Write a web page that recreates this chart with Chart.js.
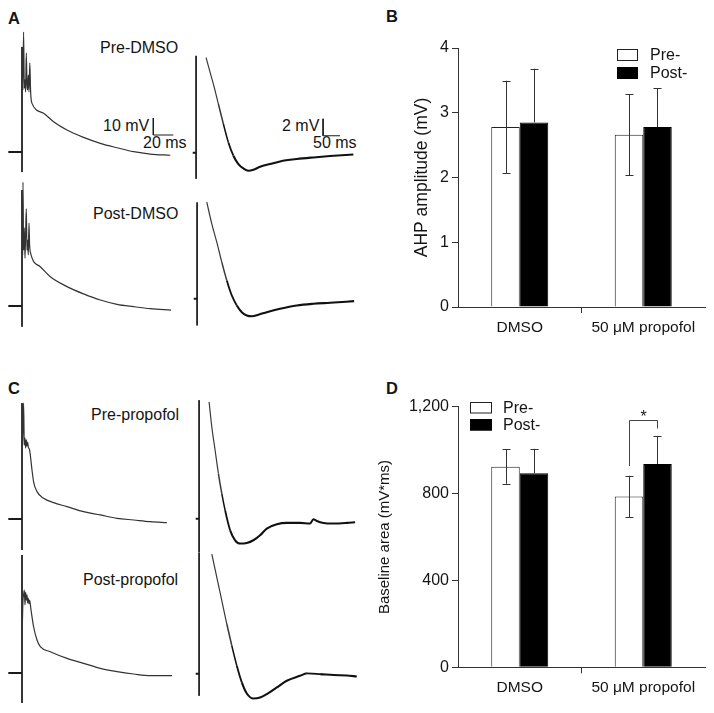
<!DOCTYPE html>
<html><head><meta charset="utf-8">
<script src="https://cdn.jsdelivr.net/npm/chart.js@4.4.0/dist/chart.umd.min.js"></script>
<style>
html,body{margin:0;padding:0;background:#fff;}
#fig{position:relative;width:714px;height:713px;overflow:hidden;font-family:"Liberation Sans",Arial,Helvetica,sans-serif;color:#151515;}
#fig canvas{position:absolute;}
.t{position:absolute;font-size:16px;line-height:16px;white-space:nowrap;transform:translateY(-50%);}
.p{font-weight:bold;font-size:16.5px;}
</style></head><body>
<div id="fig">
  <div class="t p" style="left:8px;top:17.5px">A</div>
  <div class="t p" style="left:386px;top:16px">B</div>
  <div class="t p" style="left:8px;top:388px">C</div>
  <div class="t p" style="left:386px;top:387.5px">D</div>
  <div class="t" style="left:100px;top:48px">Pre-DMSO</div>
  <div class="t" style="left:93px;top:213.5px">Post-DMSO</div>
  <div class="t" style="left:91px;top:415px">Pre-propofol</div>
  <div class="t" style="left:83px;top:580px">Post-propofol</div>
  <div class="t" style="left:103px;top:126px">10 mV</div>
  <div class="t" style="left:143px;top:143px">20 ms</div>
  <div class="t" style="left:282px;top:126px">2 mV</div>
  <div class="t" style="left:313px;top:143px">50 ms</div>
</div>
<script>
// ---------- Trace data (time in ms after stimulus, voltage in mV relative to baseline) ----------
// Fast time-base traces (left columns)
const aPreFastT  = [0.8,1.6,2.3,3.0,3.6,4.3,5.0,5.6,6.3,7.0,7.8,8.5,9.0,10.0,21.6,31.6,45,61.6,78.3,95,111.6,128.3,148.3];
const aPreFastV  = [36.5,70.6,37.6,42.4,35.3,58.2,39.4,36.5,45.3,35.3,52.4,37.6,31.8,28.6,22.8,17.8,12.9,8.6,5.1,2.5,0.2,-1.2,-1.9];
const aPostFastT = [0.6,1.0,1.6,2.3,3.0,3.6,4.3,5.0,5.6,6.3,7.0,7.6,8.3,18.3,28.3,45,61.6,78.3,95,111.6,128.3,149];
const aPostFastV = [30,72.9,32.9,45.9,28.2,41.8,57.1,32.9,38.8,30,48.8,35.9,31.8,23.1,17.2,11.4,7.1,3.5,1.0,-0.4,-1.6,-2.4];
const cPreFastT  = [0.6,1.6,2.3,3.0,3.6,4.3,5.0,5.6,6.3,7.6,10.0,11.6,15,21.6,31.6,45,61.6,78.3,95,111.6,128.3,145];
const cPreFastV  = [43.5,68.2,43.5,47.6,41.8,46.5,42.9,45.3,42.4,40.6,28.8,21.9,16.1,12.2,9.6,7.3,4.3,2.4,0.4,-0.6,-1.6,-2.2];
const cPostFastT = [0.4,1.0,1.6,2.3,3.0,3.6,4.3,5.0,5.6,6.3,7.0,7.6,9.0,11.6,15,18.3,28.3,45,61.6,78.3,95,111.6,128.3,150];
const cPostFastV = [30,42.9,45.9,48.8,40,47.6,42.9,45.9,41.2,44.1,40.6,42.9,37.1,27.2,19.4,15.5,12.5,8.6,5.7,2.7,0.8,-0.6,-1.6,-1.6];
// stimulus artifact extent [top, bottom] in mV
const aPreFastArt  = [61.8,-11.8];
const aPostFastArt = [68.2,-12.2];
const cPreFastArt  = [68.2,-18.2];
const cPostFastArt = [69.4,-17.6];

// Slow time-base traces (right columns, AHP)
const aPreSlowT  = [29.4,41.2,50.9,65.6,80.3,95,109.7,124.4,139.1,153.8,168.5,188.2,217.6,247,296.2,345,394,462.6];
const aPreSlowV  = [11.2,9.45,8.08,5.73,3.38,1.21,-0.35,-1.33,-1.85,-2.12,-2.0,-1.65,-1.33,-1.02,-0.74,-0.55,-0.39,-0.2];
const aPostSlowT = [28.5,43.2,57.9,72.6,87.4,102,116.8,131.5,146.2,160.9,180.3,205,244,293.2,342,391.2,461.8];
const aPostSlowV = [11.36,8.82,6.66,4.31,2.15,0.39,-0.79,-1.58,-1.96,-2.05,-1.88,-1.58,-1.18,-0.79,-0.59,-0.47,-0.28];
const cPreSlowT  = [29.4,37.4,47.1,56.8,66.8,76.5,91.2,105.9,120.6,140.3,159.7,179.4,199.1,228.5,257.9,297.1,326.5,336.2,346.2,365.6,395,434.4,458.8];
const cPreSlowV  = [13.74,10.8,8.06,5.32,2.96,1.0,-1.35,-2.53,-2.92,-2.85,-2.53,-1.94,-1.15,-0.65,-0.49,-0.49,-0.56,-0.06,-0.26,-0.49,-0.56,-0.49,-0.41];
const cPostSlowT = [37.4,52.1,66.8,81.5,96.2,110.9,125.6,140.3,159.7,179.4,199.1,228.5,257.9,297.1,316.8,355.9,395,434.4,463.8];
const cPostSlowV = [14.08,11.33,8.59,5.85,3.29,0.94,-1.02,-2.32,-2.91,-2.79,-2.39,-1.61,-0.82,-0.24,0.04,-0.04,-0.15,-0.2,-0.32];
const aPreSlowArt  = [11.4,-3.06];
const aPostSlowArt = [11.33,-3.14];
const cPreSlowArt  = [13.94,-3.94];
const cPostSlowArt = [14.24,-2.59];

// Scale bars [ms, mV]
const fastScaleBar = [20, 10];
const slowScaleBar = [50, 2];

// ---------- Bar data ----------
const groups = ['DMSO', '50 \u03bcM propofol'];
const ahpPre     = [2.78, 2.66];
const ahpPreSem  = [0.715, 0.625];
const ahpPost    = [2.85, 2.78];
const ahpPostSem = [0.83, 0.60];
const ahpTicks   = [0, 1, 2, 3, 4];
const areaPre     = [924, 786];
const areaPreSem  = [79, 96];
const areaPost    = [893, 936];
const areaPostSem = [113, 130];
const areaTicks   = [0, 400, 800, 1200];
const areaSig     = [927, 1139, 1100]; // bracket over 50 uM propofol: pre leg end, top, post leg end

// ---------- Rendering ----------
const FAM = '"Liberation Sans", Arial, Helvetica, sans-serif';
const fig = document.getElementById('fig');
function mkCanvas(left, top, w, h) {
  const c = document.createElement('canvas');
  c.width = w; c.height = h;
  c.style.left = left + 'px'; c.style.top = top + 'px';
  c.style.width = w + 'px'; c.style.height = h + 'px';
  fig.appendChild(c);
  return c;
}
const pts = (t, v) => t.map((x, i) => ({x: x, y: v[i]}));

function traceChart(s) {
  const W = Math.round((s.tMax - s.tMin) * s.pxMs);
  const H = Math.round((s.vMax - s.vMin) * s.pxMv);
  const c = mkCanvas(s.x0 + s.tMin * s.pxMs, s.y0 - s.vMax * s.pxMv, W, H);
  const main = {data: pts(s.t, s.v), borderColor: s.color, borderWidth: s.width, cubicInterpolationMode: 'monotone'};
  if (s.slow) {
    // the steep falling phase is drawn thinner/greyer, as in the original recording
    main.segment = {
      borderWidth: ctx => { const v = ctx.p0.parsed.y; return v > 6 ? 1.2 : v > 2.5 ? 1.5 : v > 0 ? 1.8 : s.width; },
      borderColor: ctx => (ctx.p0.parsed.y > 4 ? '#3a3a3a' : s.color)
    };
  }
  const ds = [
    main,
    {data: [{x: 0, y: s.art[0]}, {x: 0, y: s.art[1]}], borderColor: '#1a1a1a', borderWidth: 1},
    {data: [{x: s.baseFrom, y: 0}, {x: 0, y: 0}], borderColor: '#1a1a1a', borderWidth: 2}
  ];
  if (s.bar) {
    const [bx, by] = s.barAt, [ms, mv] = s.bar;
    ds.push({data: [{x: bx, y: by + mv}, {x: bx, y: by}, {x: bx + ms, y: by}], borderColor: '#1a1a1a', borderWidth: 1});
  }
  ds.forEach(d => { d.pointRadius = 0; d.fill = false; d.clip = false; d.tension = 0; });
  new Chart(c, {
    type: 'line',
    data: {datasets: ds},
    options: {
      responsive: false, animation: false, events: [],
      layout: {padding: 0},
      plugins: {legend: {display: false}, tooltip: {enabled: false}},
      scales: {
        x: {type: 'linear', display: false, min: s.tMin, max: s.tMin + W / s.pxMs},
        y: {type: 'linear', display: false, min: s.vMin, max: s.vMin + H / s.pxMv}
      }
    }
  });
}

const fastBase = {pxMs: 1, pxMv: 1.7, tMin: -15, tMax: 155, vMin: -20, vMax: 74, baseFrom: -13.7, color: '#333', width: 1.2};
const slowBase = {pxMs: 0.34, pxMv: 8.5, tMin: -15, tMax: 476, vMin: -4.5, vMax: 14.5, baseFrom: -10, color: '#111', width: 2.1, slow: true};

traceChart(Object.assign({}, fastBase, {x0: 21.7, y0: 152, t: aPreFastT, v: aPreFastV, art: aPreFastArt, bar: fastScaleBar, barAt: [131.3, 10]}));
traceChart(Object.assign({}, fastBase, {x0: 21.7, y0: 306, t: aPostFastT, v: aPostFastV, art: aPostFastArt}));
traceChart(Object.assign({}, fastBase, {x0: 22.3, y0: 519, t: cPreFastT, v: cPreFastV, art: cPreFastArt}));
traceChart(Object.assign({}, fastBase, {x0: 22.3, y0: 673, t: cPostFastT, v: cPostFastV, art: cPostFastArt}));
traceChart(Object.assign({}, slowBase, {x0: 196, y0: 152, t: aPreSlowT, v: aPreSlowV, art: aPreSlowArt, bar: slowScaleBar, barAt: [373.5, 2]}));
traceChart(Object.assign({}, slowBase, {x0: 197, y0: 298.3, t: aPostSlowT, v: aPostSlowV, art: aPostSlowArt}));
traceChart(Object.assign({}, slowBase, {x0: 199, y0: 518.5, t: cPreSlowT, v: cPreSlowV, art: cPreSlowArt}));
traceChart(Object.assign({}, slowBase, {x0: 199, y0: 673, t: cPostSlowT, v: cPostSlowV, art: cPostSlowArt}));

// plugins for bar charts
const errPlugin = {
  id: 'errBars',
  afterDatasetsDraw(chart) {
    const ctx = chart.ctx, y = chart.scales.y;
    chart.data.datasets.forEach((ds, di) => {
      chart.getDatasetMeta(di).data.forEach((bar, i) => {
        const m = ds.data[i], e = ds.sem[i];
        const yt = y.getPixelForValue(m + e), yb = y.getPixelForValue(ds.lowerArm ? m - e : m);
        ctx.save();
        ctx.strokeStyle = '#333'; ctx.lineWidth = 1;
        ctx.beginPath();
        const x = Math.round(bar.x) + 0.5;
        ctx.moveTo(x, yt); ctx.lineTo(x, yb);
        ctx.moveTo(x - 4, Math.round(yt) + 0.5); ctx.lineTo(x + 4, Math.round(yt) + 0.5);
        if (ds.lowerArm) { ctx.moveTo(x - 4, Math.round(yb) + 0.5); ctx.lineTo(x + 4, Math.round(yb) + 0.5); }
        ctx.stroke();
        ctx.restore();
      });
    });
  }
};
const boxLegend = {
  id: 'boxLegend',
  afterDraw(chart, args, o) {
    const ctx = chart.ctx;
    chart.data.datasets.forEach((ds, i) => {
      const x = o.x, yy = o.y + i * o.gap;
      ctx.save();
      ctx.fillStyle = ds.backgroundColor; ctx.fillRect(x, yy, o.bw, o.bh);
      ctx.strokeStyle = ds.borderColor; ctx.lineWidth = 1;
      ctx.strokeRect(x + 0.5, yy + 0.5, o.bw - 1, o.bh - 1);
      ctx.fillStyle = '#151515'; ctx.font = '16px ' + FAM;
      ctx.textBaseline = 'middle'; ctx.textAlign = 'left';
      ctx.fillText(ds.label, x + o.bw + o.tg, yy + o.bh / 2 + 0.5);
      ctx.restore();
    });
  }
};
const sigPlugin = {
  id: 'sig',
  afterDatasetsDraw(chart, args, o) {
    if (!o || !o.values) return;
    const ctx = chart.ctx, y = chart.scales.y;
    const xa = Math.round(chart.getDatasetMeta(0).data[o.group].x) + 0.5;
    const xb = Math.round(chart.getDatasetMeta(1).data[o.group].x) + 0.5;
    const [v1, v2, v3] = o.values;
    const yt = Math.round(y.getPixelForValue(v2)) + 0.5;
    ctx.save();
    ctx.strokeStyle = '#444'; ctx.lineWidth = 1;
    ctx.beginPath();
    ctx.moveTo(xa, y.getPixelForValue(v1)); ctx.lineTo(xa, yt); ctx.lineTo(xb, yt); ctx.lineTo(xb, y.getPixelForValue(v3));
    ctx.stroke();
    ctx.fillStyle = '#151515'; ctx.font = '16px ' + FAM;
    ctx.textAlign = 'center'; ctx.textBaseline = 'alphabetic';
    ctx.fillText('*', (xa + xb) / 2, yt + 1);
    ctx.restore();
  }
};

function barChart(cfg) {
  const c = mkCanvas(cfg.left, cfg.top, cfg.w, cfg.h);
  const ticks = cfg.ticks;
  new Chart(c, {
    type: 'bar',
    data: {labels: groups, datasets: [
      {label: 'Pre-', data: cfg.pre, sem: cfg.preSem, lowerArm: true, backgroundColor: '#ffffff', borderColor: '#222', borderWidth: 1},
      {label: 'Post-', data: cfg.post, sem: cfg.postSem, lowerArm: false, backgroundColor: '#000000', borderColor: '#000', borderWidth: 1}
    ]},
    options: {
      responsive: false, animation: false, events: [],
      layout: {padding: {left: 0, right: cfg.w - cfg.area[2], top: cfg.area[1], bottom: cfg.h - cfg.area[3] - 33}},
      datasets: {bar: {categoryPercentage: 0.4615, barPercentage: 1}},
      plugins: {legend: {display: false}, tooltip: {enabled: false}, boxLegend: cfg.legend, sig: cfg.sig || {}},
      scales: {
        x: {
          grid: {display: true, drawOnChartArea: false, drawTicks: true, tickLength: 6, lineWidth: 1,
                 color: ctx => ctx.index === 1 ? '#333' : 'rgba(0,0,0,0)'},
          border: {display: true, color: '#333', width: 1},
          ticks: {color: '#151515', font: {size: 15.5, family: FAM}, padding: 5, maxRotation: 0},
          afterFit: s => { s.height = 33; }
        },
        y: {
          min: ticks[0], max: ticks[ticks.length - 1],
          ticks: {stepSize: ticks[1] - ticks[0], color: '#151515', font: {size: 16, family: FAM}, padding: 3,
                  callback: v => Number(v).toLocaleString('en-US')},
          grid: {display: true, drawOnChartArea: false, drawTicks: true, tickLength: 6, color: '#333', lineWidth: 1},
          border: {display: true, color: '#333', width: 1},
          title: {display: true, text: cfg.title, color: '#151515', font: {size: cfg.titleSize, family: FAM}, padding: {top: cfg.titlePad, bottom: 0}},
          afterFit: s => { s.width = cfg.area[0]; }
        }
      }
    },
    plugins: [errPlugin, boxLegend, sigPlugin]
  });
}

barChart({left: 370, top: 0, w: 344, h: 350, area: [88, 48, 335, 307],
  pre: ahpPre, preSem: ahpPreSem, post: ahpPost, postSem: ahpPostSem, ticks: ahpTicks,
  title: 'AHP amplitude (mV)', titleSize: 17.5, titlePad: 41.5,
  legend: {x: 247, y: 49, bw: 21, bh: 12, gap: 18, tg: 12}});
barChart({left: 370, top: 360, w: 344, h: 353, area: [88, 46.7, 335, 307.3],
  pre: areaPre, preSem: areaPreSem, post: areaPost, postSem: areaPostSem, ticks: areaTicks,
  title: 'Baseline area (mV*ms)', titleSize: 15, titlePad: 6,
  legend: {x: 100, y: 42, bw: 22, bh: 11.5, gap: 17, tg: 11},
  sig: {group: 1, values: areaSig}});
</script>
</body></html>
